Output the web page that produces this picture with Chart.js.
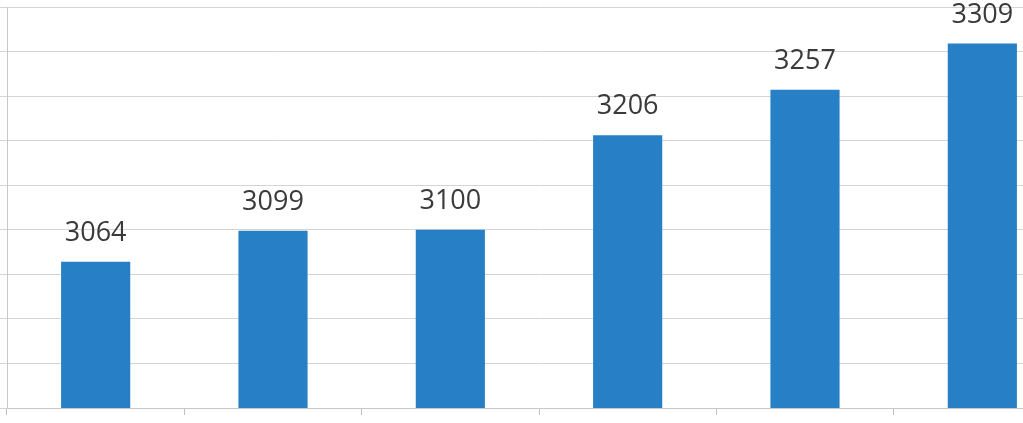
<!DOCTYPE html>
<html>
<head>
<meta charset="utf-8">
<script src="https://cdn.jsdelivr.net/npm/chart.js@4"></script>
<style>
  html, body { margin: 0; padding: 0; background: #ffffff; overflow: hidden; }
  #wrap { position: absolute; left: 0; top: 0; width: 1075px; height: 423px; }
</style>
</head>
<body>
<div id="wrap"><canvas id="c"></canvas></div>
<script>
const categories = ['1', '2', '3', '4', '5', '6'];
const values = [3064, 3099, 3100, 3206, 3257, 3309];
const yMin = 2900;
const yMax = 3350;
const yStep = 50;

const valueLabels = {
  id: 'valueLabels',
  afterDatasetsDraw(chart) {
    const ctx = chart.ctx;
    const meta = chart.getDatasetMeta(0);
    ctx.save();
    ctx.font = '27px "Open Sans", sans-serif';
    ctx.fillStyle = '#3a3a3a';
    ctx.textAlign = 'center';
    ctx.textBaseline = 'alphabetic';
    meta.data.forEach((bar, i) => {
      ctx.fillText(String(values[i]), bar.x, bar.y - 21);
    });
    ctx.restore();
  }
};

new Chart(document.getElementById('c'), {
  type: 'bar',
  data: {
    labels: categories,
    datasets: [{
      data: values,
      backgroundColor: '#2780c5',
      borderWidth: 0,
      categoryPercentage: 1.0,
      barPercentage: 0.39
    }]
  },
  options: {
    responsive: true,
    maintainAspectRatio: false,
    animation: false,
    layout: { padding: { top: 7, right: 4, bottom: 8, left: 0 } },
    plugins: { legend: { display: false }, tooltip: { enabled: false } },
    scales: {
      x: {
        grid: { display: true, drawOnChartArea: false, drawTicks: true, tickLength: 7, color: '#bfbfbf', offset: true },
        border: { display: true, color: '#c8c8c8', width: 1 },
        ticks: { display: false }
      },
      y: {
        min: yMin,
        max: yMax,
        ticks: { display: false, stepSize: yStep },
        grid: { color: '#d4d4d4', lineWidth: 1, drawTicks: true, tickLength: 7 },
        border: { display: true, color: '#c8c8c8', width: 1 }
      }
    }
  },
  plugins: [valueLabels]
});
</script>
</body>
</html>
